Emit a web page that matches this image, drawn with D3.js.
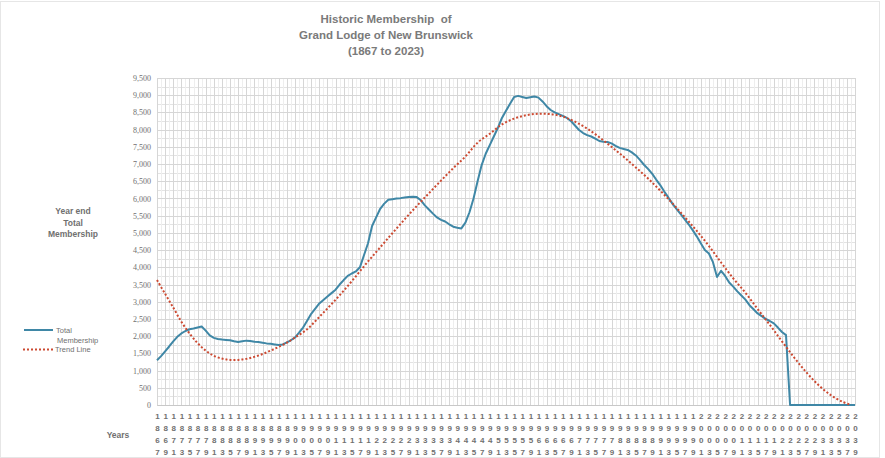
<!DOCTYPE html>
<html>
<head>
<meta charset="utf-8">
<script src="https://cdn.jsdelivr.net/npm/d3@7"></script>
<style>
  html, body { margin: 0; padding: 0; background: #fff; }
  svg { display: block; }
</style>
</head>
<body>
<svg id="chart" width="885" height="458"></svg>
<script>
// ---------------- DATA ----------------
const titleLines = ["Historic Membership  of", "Grand Lodge of New Brunswick", "(1867 to 2023)"];
const yTitleLines = ["Year end", "Total", "Membership"];
const firstYear = 1867;
const lastYear = 2039;
// Year-end total membership, 1867 .. 2039 (zeros after 2022 as in the source sheet)
const membership = [
  1300, 1420, 1560, 1700, 1850, 1980, 2080, 2150, 2200, 2220, // 1867-1876
  2250, 2280, 2160, 2020, 1950, 1920, 1900, 1890, 1880, 1850, // 1877-1886
  1830, 1850, 1870, 1860, 1840, 1830, 1810, 1790, 1780, 1760, // 1887-1896
  1740, 1760, 1820, 1880, 1960, 2100, 2250, 2450, 2650, 2800, // 1897-1906
  2950, 3050, 3150, 3250, 3350, 3500, 3630, 3750, 3820, 3880, // 1907-1916
  4000, 4350, 4700, 5200, 5450, 5700, 5850, 5960, 5980, 6000, // 1917-1926
  6010, 6030, 6040, 6050, 6040, 5950, 5800, 5680, 5560, 5450, // 1927-1936
  5380, 5330, 5250, 5180, 5150, 5130, 5300, 5600, 6000, 6500, // 1937-1946
  6970, 7300, 7550, 7800, 8050, 8340, 8550, 8750, 8950, 8980, // 1947-1956
  8950, 8920, 8940, 8960, 8930, 8820, 8680, 8570, 8500, 8450, // 1957-1966
  8400, 8340, 8250, 8120, 7990, 7900, 7840, 7800, 7740, 7670, // 1967-1976
  7650, 7640, 7600, 7530, 7470, 7440, 7410, 7340, 7250, 7120, // 1977-1986
  6980, 6860, 6720, 6550, 6390, 6200, 6030, 5850, 5700, 5550, // 1987-1996
  5400, 5250, 5080, 4900, 4700, 4500, 4400, 4150, 3720, 3900, // 1997-2006
  3750, 3560, 3440, 3300, 3180, 3060, 2900, 2780, 2660, 2580, // 2007-2016
  2500, 2440, 2370, 2250, 2120, 2030, 0, 0, 0, 0,             // 2017-2026
  0, 0, 0, 0, 0, 0, 0, 0, 0, 0,                               // 2027-2036
  0, 0, 0                                                     // 2037-2039
];
// Trend line (polynomial trend)
const trendYears = [1867,1869,1871,1873,1875,1877,1879,1881,1883,1885,1887,1889,1891,1893,1895,1897,1899,1901,
  1904,1907,1910,1913,1916,1919,1922,1925,1928,1931,1934,1937,1940,1943,1946,1949,1952,1955,1958,1961,1964,1967,
  1970,1973,1976,1979,1982,1985,1988,1991,1994,1997,2000,2003,2006,2009,2012,2015,2018,2021,2024,2027,2030,2033,2036,2038];
const trendValues = [3630,3230,2830,2420,2080,1800,1580,1430,1350,1310,1310,1340,1400,1480,1580,1690,1810,1960,
  2200,2560,2930,3320,3740,4170,4580,4990,5390,5780,6150,6520,6880,7220,7620,7880,8150,8320,8420,8460,8450,8380,
  8230,8030,7780,7500,7210,6900,6580,6230,5860,5470,5060,4620,4140,3680,3260,2790,2330,1850,1380,950,580,290,90,0];
const yTicks = d3.range(0, 9501, 500);
const legendLabels = ["Total", "Membership", "Trend Line"];

// ---------------- CHART ----------------
const svg = d3.select("#chart");
const W = 885, H = 458;
const plot = { left: 157, right: 855, top: 78, bottom: 405 };
const years = d3.range(firstYear, lastYear + 1);
const labelYears = d3.range(firstYear, lastYear + 1, 2);

const x = d3.scaleLinear().domain([firstYear, lastYear]).range([plot.left, plot.right]);
const y = d3.scaleLinear().domain([0, 9500]).range([plot.bottom, plot.top]);

const gray = "#707070";

// faint outer frame
svg.append("rect").attr("x", 0.5).attr("y", 1.5).attr("width", W - 6).attr("height", H - 2)
  .attr("fill", "none").attr("stroke", "#e6e6e6");

// gridlines
const grid = svg.append("g");
grid.selectAll("line.hminor").data(d3.range(250, 9500, 500)).join("line")
  .attr("x1", plot.left).attr("x2", plot.right)
  .attr("y1", d => Math.round(y(d)) + 0.5).attr("y2", d => Math.round(y(d)) + 0.5)
  .attr("stroke", "#e3e3e3").attr("stroke-width", 1);
grid.selectAll("line.vminor").data(years.filter(d => (d - firstYear) % 2 === 1)).join("line")
  .attr("x1", d => Math.round(x(d)) + 0.5).attr("x2", d => Math.round(x(d)) + 0.5)
  .attr("y1", plot.top).attr("y2", plot.bottom)
  .attr("stroke", "#eeeeee").attr("stroke-width", 1);
grid.selectAll("line.hmajor").data(yTicks).join("line")
  .attr("x1", plot.left).attr("x2", plot.right)
  .attr("y1", d => Math.round(y(d)) + 0.5).attr("y2", d => Math.round(y(d)) + 0.5)
  .attr("stroke", "#d6d6d6").attr("stroke-width", 1);
grid.selectAll("line.vmajor").data(labelYears).join("line")
  .attr("x1", d => Math.round(x(d)) + 0.5).attr("x2", d => Math.round(x(d)) + 0.5)
  .attr("y1", plot.top).attr("y2", plot.bottom)
  .attr("stroke", "#d6d6d6").attr("stroke-width", 1);

// Y axis
const yAxis = d3.axisLeft(y).tickValues(yTicks).tickSize(0).tickPadding(6).tickFormat(d3.format(","));
const gy = svg.append("g").attr("transform", `translate(${plot.left},0)`).call(yAxis);
gy.select(".domain").remove();
gy.selectAll("text").attr("font-family", "'Liberation Serif', 'DejaVu Serif', serif")
  .attr("font-size", "8px").attr("fill", gray);

// X axis (stacked digits)
const xAxis = d3.axisBottom(x).tickValues(labelYears).tickSize(0).tickFormat(d => String(d));
const gx = svg.append("g").attr("transform", `translate(0,${plot.bottom})`).call(xAxis);
gx.select(".domain").attr("stroke", "#c8c8c8");
gx.selectAll(".tick text").each(function(d) {
  const t = d3.select(this);
  t.text(null).attr("y", 0).attr("dy", null)
    .attr("font-family", "'Liberation Sans', Arial, sans-serif")
    .attr("font-size", "8px").attr("font-weight", "bold").attr("fill", gray)
    .attr("text-anchor", "middle");
  String(d).split("").forEach((ch, i) => {
    t.append("tspan").attr("x", 0).attr("y", 14 + i * 12).text(ch);
  });
});

// Lines
const blueLine = d3.line().x((d, i) => x(years[i])).y(d => y(d));
svg.append("path").datum(membership)
  .attr("d", blueLine).attr("fill", "none")
  .attr("stroke", "#3f87a6").attr("stroke-width", 2).attr("stroke-linejoin", "round");

const trendLine = d3.line().curve(d3.curveCatmullRom)
  .x((d, i) => x(trendYears[i])).y(d => y(d));
svg.append("path").datum(trendValues)
  .attr("d", trendLine).attr("fill", "none")
  .attr("stroke", "#cc4a32").attr("stroke-width", 2).attr("stroke-dasharray", "2,2");

// Title
svg.append("g").selectAll("text").data(titleLines).join("text")
  .attr("x", 386).attr("y", (d, i) => 23 + i * 16)
  .attr("text-anchor", "middle")
  .attr("font-family", "'Liberation Sans', Arial, sans-serif")
  .attr("font-size", "11.5px").attr("font-weight", "bold").attr("fill", "#7a7a7a")
  .attr("xml:space", "preserve")
  .text(d => d);

// Y title
svg.append("g").selectAll("text").data(yTitleLines).join("text")
  .attr("x", 73).attr("y", (d, i) => 214 + i * 11.5)
  .attr("text-anchor", "middle")
  .attr("font-family", "'Liberation Sans', Arial, sans-serif")
  .attr("font-size", "8.5px").attr("font-weight", "bold").attr("fill", gray)
  .text(d => d);

// Years label
svg.append("text").attr("x", 118).attr("y", 438).attr("text-anchor", "middle")
  .attr("font-family", "'Liberation Sans', Arial, sans-serif")
  .attr("font-size", "8.5px").attr("font-weight", "bold").attr("fill", gray)
  .text("Years");

// Legend
const lg = svg.append("g").attr("font-family", "'Liberation Sans', Arial, sans-serif")
  .attr("font-size", "7.5px").attr("fill", gray);
lg.append("line").attr("x1", 24).attr("x2", 53).attr("y1", 330).attr("y2", 330)
  .attr("stroke", "#3f87a6").attr("stroke-width", 2);
lg.append("text").attr("x", 56).attr("y", 332.5).text(legendLabels[0]);
lg.append("text").attr("x", 57).attr("y", 343).text(legendLabels[1]);
lg.append("line").attr("x1", 23).attr("x2", 53).attr("y1", 349.5).attr("y2", 349.5)
  .attr("stroke", "#cc4a32").attr("stroke-width", 2).attr("stroke-dasharray", "2,2");
lg.append("text").attr("x", 55).attr("y", 352).text(legendLabels[2]);
</script>
</body>
</html>
